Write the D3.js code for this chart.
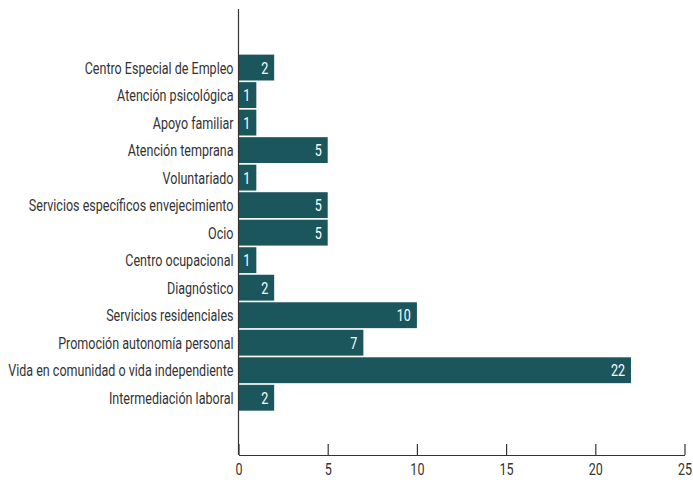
<!DOCTYPE html>
<html>
<head>
<meta charset="utf-8">
<script src="https://cdn.jsdelivr.net/npm/d3@7"></script>
<style>
  body { margin: 0; background: #fff; }
  text { font-family: Roboto, "DejaVu Sans Condensed", sans-serif; }
</style>
</head>
<body>
<div id="chart"></div>
<script>
// data, top to bottom
var categories = [
    "Centro Especial de Empleo",
    "Atención psicológica",
    "Apoyo familiar",
    "Atención temprana",
    "Voluntariado",
    "Servicios específicos envejecimiento",
    "Ocio",
    "Centro ocupacional",
    "Diagnóstico",
    "Servicios residenciales",
    "Promoción autonomía personal",
    "Vida en comunidad o vida independiente",
    "Intermediación laboral"
];
var values = [2, 1, 1, 5, 1, 5, 5, 1, 2, 10, 7, 22, 2];
var xTicks = [0, 5, 10, 15, 20, 25];

var width = 693, height = 480;
var barColour = "#1c565d";
var textColour = "#333";
var squeeze = 0.76;   // the original font is a condensed face
var fontSize = "16.5px";

var svg = d3.select("#chart").append("svg")
    .attr("width", width)
    .attr("height", height);

var x = d3.scaleLinear()
    .domain([0, 25])
    .range([238.5, 684.5]);

var y = d3.scaleBand()
    .domain(categories)
    .range([53.8, 411.5])
    .paddingInner(0.06)
    .paddingOuter(0.03);

var rows = categories.map(function(c, i) { return {label: c, value: values[i]}; });

// bars
svg.selectAll(".bar")
    .data(rows)
    .enter().append("rect")
    .attr("class", "bar")
    .attr("x", x(0))
    .attr("y", function(d) { return y(d.label); })
    .attr("width", function(d) { return x(d.value) - x(0); })
    .attr("height", y.bandwidth())
    .style("fill", barColour);

// value labels inside bar ends
svg.selectAll(".val")
    .data(rows)
    .enter().append("text")
    .attr("class", "val")
    .attr("transform", function(d) {
        return "translate(" + (x(d.value) - 6) + "," + (y(d.label) + y.bandwidth() / 2) + ") scale(" + squeeze + ",1)";
    })
    .attr("dy", "0.36em")
    .attr("text-anchor", "end")
    .style("fill", "#fff")
    .style("font-size", fontSize)
    .text(function(d) { return d.value; });

// category labels
svg.selectAll(".cat")
    .data(rows)
    .enter().append("text")
    .attr("class", "cat")
    .attr("transform", function(d) {
        return "translate(" + (x(0) - 5) + "," + (y(d.label) + y.bandwidth() / 2) + ") scale(" + squeeze + ",1)";
    })
    .attr("dy", "0.36em")
    .attr("text-anchor", "end")
    .style("fill", textColour)
    .style("font-size", fontSize)
    .text(function(d) { return d.label; });

// vertical axis line
svg.append("line")
    .attr("x1", x(0)).attr("x2", x(0))
    .attr("y1", 9).attr("y2", 455)
    .style("stroke", textColour)
    .style("stroke-width", 1.2);

// x axis, ticks pointing up
var xAxis = d3.axisBottom(x)
    .tickValues(xTicks)
    .tickSizeInner(-11)
    .tickSizeOuter(0)
    .tickPadding(8);

var gx = svg.append("g")
    .attr("transform", "translate(0,455)")
    .call(xAxis);
gx.select(".domain").style("stroke", textColour).style("stroke-width", 1.2);
gx.selectAll(".tick line").style("stroke", textColour).style("stroke-width", 1.2);
gx.selectAll(".tick text")
    .attr("transform", "scale(" + squeeze + ",1)")
    .style("fill", textColour)
    .style("font-size", fontSize)
    .style("font-family", "Roboto, 'DejaVu Sans Condensed', sans-serif");
</script>
</body>
</html>
